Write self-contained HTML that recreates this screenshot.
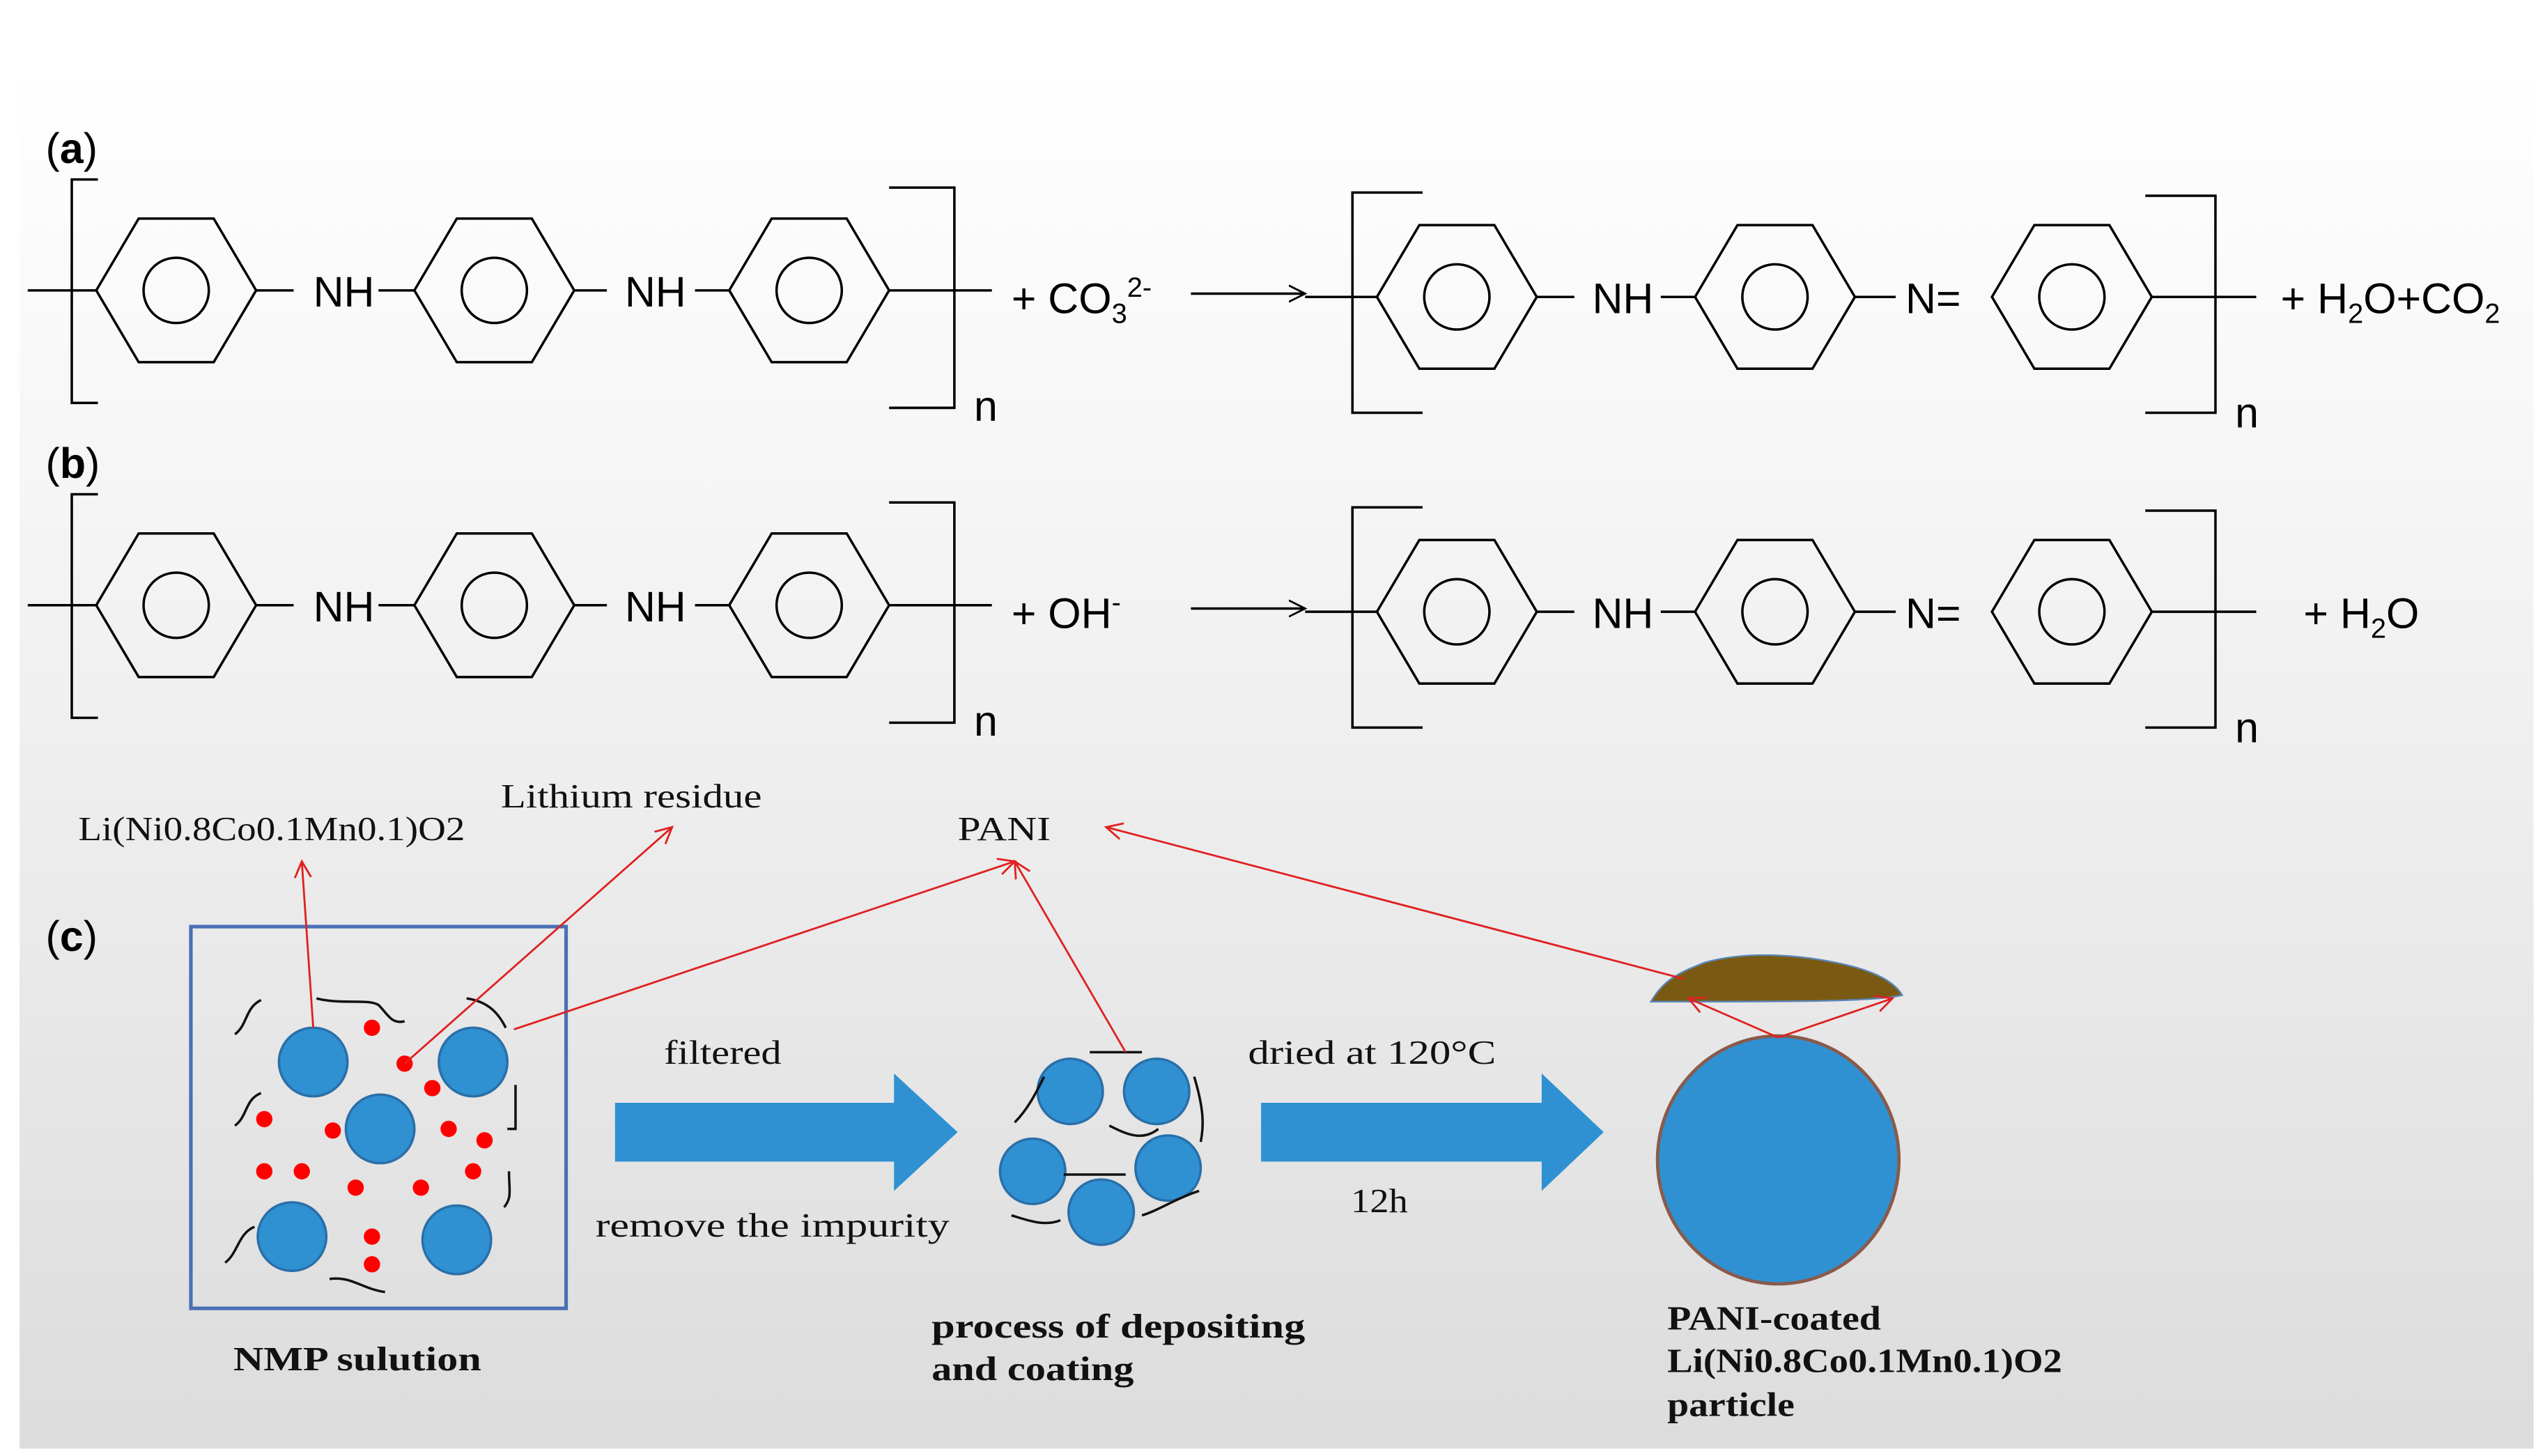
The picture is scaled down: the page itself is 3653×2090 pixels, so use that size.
<!DOCTYPE html>
<html><head><meta charset="utf-8"><style>html,body{margin:0;padding:0;background:#fff}svg{display:block}</style></head>
<body>
<svg width="3653" height="2090" viewBox="0 0 1560 892.5" preserveAspectRatio="none" xmlns="http://www.w3.org/2000/svg" xmlns:xlink="http://www.w3.org/1999/xlink">
<defs>
<linearGradient id="bg" x1="0" y1="0" x2="0" y2="1">
<stop offset="0" stop-color="#ffffff"/><stop offset="0.35" stop-color="#f4f4f4"/><stop offset="1" stop-color="#dcdcdc"/>
</linearGradient>
<g id="hex"><polygon points="-23,-44 23,-44 49,0 23,44 -23,44 -49,0" fill="none" stroke="#000" stroke-width="1.5"/><circle r="20" fill="none" stroke="#000" stroke-width="1.5"/></g>
<marker id="ra" markerWidth="12" markerHeight="12" refX="10" refY="6" orient="auto" markerUnits="userSpaceOnUse"><path d="M0,1 L10,6 L0,11" fill="none" stroke="#e02020" stroke-width="1.2"/></marker>
<marker id="ka" markerWidth="12" markerHeight="12" refX="10" refY="6" orient="auto" markerUnits="userSpaceOnUse"><path d="M0,1 L10,6 L0,11" fill="none" stroke="#000" stroke-width="1.2"/></marker>
</defs>
<rect x="12" y="40" width="1541" height="848" fill="url(#bg)"/>
<g font-family="Liberation Sans, sans-serif" font-size="26" fill="#000">
<text x="28" y="100">(<tspan font-weight="bold">a</tspan>)</text>
<text x="28" y="293">(<tspan font-weight="bold">b</tspan>)</text>
<text x="28" y="583">(<tspan font-weight="bold">c</tspan>)</text>
</g>
<g stroke="#000" stroke-width="1.5" fill="none">
<path d="M60,110 H44 V247 H60"/><path d="M545,115 H585 V250 H545"/>
<path d="M17,178 H60"/><path d="M157,178 H180"/><path d="M232,178 H254"/><path d="M352,178 H372"/><path d="M426,178 H447"/><path d="M545,178 H608"/>
<path d="M872,118 H829 V253 H872"/><path d="M1315,120 H1358 V253 H1315"/>
<path d="M800,182 H845"/><path d="M942,182 H965"/><path d="M1018,182 H1040"/><path d="M1137,182 H1162"/><path d="M1318,182 H1383"/>
<path d="M730,180 H800" marker-end="url(#ka)"/>
<path d="M60,303 H44 V440 H60"/><path d="M545,308 H585 V443 H545"/>
<path d="M17,371 H60"/><path d="M157,371 H180"/><path d="M232,371 H254"/><path d="M352,371 H372"/><path d="M426,371 H447"/><path d="M545,371 H608"/>
<path d="M872,311 H829 V446 H872"/><path d="M1315,313 H1358 V446 H1315"/>
<path d="M800,375 H845"/><path d="M942,375 H965"/><path d="M1018,375 H1040"/><path d="M1137,375 H1162"/><path d="M1318,375 H1383"/>
<path d="M730,373 H800" marker-end="url(#ka)"/>
</g>
<use xlink:href="#hex" x="108" y="178"/><use xlink:href="#hex" x="303" y="178"/><use xlink:href="#hex" x="496" y="178"/>
<use xlink:href="#hex" x="893" y="182"/><use xlink:href="#hex" x="1088" y="182"/><use xlink:href="#hex" x="1270" y="182"/>
<use xlink:href="#hex" x="108" y="371"/><use xlink:href="#hex" x="303" y="371"/><use xlink:href="#hex" x="496" y="371"/>
<use xlink:href="#hex" x="893" y="375"/><use xlink:href="#hex" x="1088" y="375"/><use xlink:href="#hex" x="1270" y="375"/>
<g font-family="Liberation Sans, sans-serif" font-size="26" fill="#000">
<text x="192" y="188">NH</text><text x="383" y="188">NH</text>
<text x="976" y="192">NH</text><text x="1168" y="192">N=</text>
<text x="597" y="258">n</text><text x="1370" y="262">n</text>
<text x="620" y="192">+  CO<tspan font-size="17" dy="6">3</tspan><tspan font-size="17" dy="-16">2-</tspan></text>
<text x="1398" y="192">+ H<tspan font-size="17" dy="6">2</tspan><tspan dy="-6">O+CO</tspan><tspan font-size="17" dy="6">2</tspan></text>
<text x="192" y="381">NH</text><text x="383" y="381">NH</text>
<text x="976" y="385">NH</text><text x="1168" y="385">N=</text>
<text x="597" y="451">n</text><text x="1370" y="455">n</text>
<text x="620" y="385">+  OH<tspan font-size="17" dy="-10">-</tspan></text>
<text x="1412" y="385">+ H<tspan font-size="17" dy="6">2</tspan><tspan dy="-6">O</tspan></text>
</g>
<rect x="117" y="568" width="230" height="234" fill="none" stroke="#4a6fb5" stroke-width="2.2"/>
<g fill="#2f91d2" stroke="#2a6fa8" stroke-width="1.5">
<circle cx="192" cy="651" r="21"/><circle cx="290" cy="651" r="21"/><circle cx="233" cy="692" r="21"/><circle cx="179" cy="758" r="21"/><circle cx="280" cy="760" r="21"/>
<circle cx="656" cy="669" r="20"/><circle cx="709" cy="669" r="20"/><circle cx="633" cy="718" r="20"/><circle cx="716" cy="716" r="20"/><circle cx="675" cy="743" r="20"/>
</g>
<ellipse cx="1090" cy="711" rx="74" ry="76" fill="#2f91d2" stroke="#8a5a4a" stroke-width="2"/>
<path d="M1012,614 C1020,600 1030,596 1045,590 C1070,583 1100,585 1125,590 C1145,594 1160,600 1166,610 C1150,614 1100,614 1012,614 Z" fill="#7a5a12" stroke="#5a86b8" stroke-width="1"/>
<g fill="#ff0000">
<circle cx="228" cy="630" r="5"/><circle cx="248" cy="652" r="5"/><circle cx="265" cy="667" r="5"/><circle cx="162" cy="686" r="5"/><circle cx="204" cy="693" r="5"/><circle cx="275" cy="692" r="5"/><circle cx="297" cy="699" r="5"/><circle cx="162" cy="718" r="5"/><circle cx="185" cy="718" r="5"/><circle cx="218" cy="728" r="5"/><circle cx="258" cy="728" r="5"/><circle cx="290" cy="718" r="5"/><circle cx="228" cy="758" r="5"/><circle cx="228" cy="775" r="5"/>
</g>
<g fill="none" stroke="#111" stroke-width="1.5">
<path d="M144,634 C152,628 150,618 160,613"/><path d="M194,612 C210,616 225,612 232,616 C238,622 240,628 248,626"/>
<path d="M286,612 C300,614 306,622 310,630"/><path d="M144,690 C152,684 150,674 160,670"/><path d="M316,665 V692 H311"/>
<path d="M312,718 C312,730 314,734 309,740"/><path d="M138,774 C146,768 146,756 156,752"/><path d="M202,784 C215,782 222,790 236,792"/>
<path d="M640,660 C635,670 630,680 622,688"/><path d="M668,645 H700"/><path d="M680,690 C690,695 700,700 710,692"/><path d="M652,720 H690"/><path d="M620,745 C630,748 640,752 650,748"/><path d="M700,745 C710,742 720,735 735,730"/><path d="M732,660 C738,680 738,690 736,700"/>
</g>
<polygon points="377,676 548,676 548,658 587,694 548,730 548,712 377,712" fill="#2f91d2"/>
<polygon points="773,676 945,676 945,658 983,694 945,730 945,712 773,712" fill="#2f91d2"/>
<g stroke="#e02020" stroke-width="1.2" fill="none">
<path d="M192,630 L185,528" marker-end="url(#ra)"/>
<path d="M248,652 L412,507" marker-end="url(#ra)"/>
<path d="M315,631 L622,528" marker-end="url(#ra)"/>
<path d="M690,645 L622,528" marker-end="url(#ra)"/>
<path d="M1032,600 L678,507" marker-end="url(#ra)"/>
<path d="M1090,636 L1035,612" marker-end="url(#ra)"/>
<path d="M1090,636 L1160,612" marker-end="url(#ra)"/>
</g>
<g font-family="Liberation Serif, serif" font-size="21" fill="#111">
<text x="48" y="515" textLength="237" lengthAdjust="spacingAndGlyphs">Li(Ni0.8Co0.1Mn0.1)O2</text>
<text x="307" y="495" textLength="160" lengthAdjust="spacingAndGlyphs">Lithium residue</text>
<text x="587" y="515" textLength="57" lengthAdjust="spacingAndGlyphs">PANI</text>
<text x="407" y="652" textLength="72" lengthAdjust="spacingAndGlyphs">filtered</text>
<text x="365" y="758" textLength="217" lengthAdjust="spacingAndGlyphs">remove the impurity</text>
<text x="765" y="652" textLength="152" lengthAdjust="spacingAndGlyphs">dried at 120°C</text>
<text x="828" y="743" textLength="35" lengthAdjust="spacingAndGlyphs">12h</text>
<g font-weight="bold">
<text x="143" y="840" textLength="152" lengthAdjust="spacingAndGlyphs">NMP sulution</text>
<text x="571" y="820" textLength="229" lengthAdjust="spacingAndGlyphs">process of depositing</text>
<text x="571" y="846" textLength="124" lengthAdjust="spacingAndGlyphs">and coating</text>
<text x="1022" y="815" textLength="131" lengthAdjust="spacingAndGlyphs">PANI-coated</text>
<text x="1022" y="841" textLength="242" lengthAdjust="spacingAndGlyphs">Li(Ni0.8Co0.1Mn0.1)O2</text>
<text x="1022" y="868" textLength="78" lengthAdjust="spacingAndGlyphs">particle</text>
</g>
</g>
</svg>
</body></html>
